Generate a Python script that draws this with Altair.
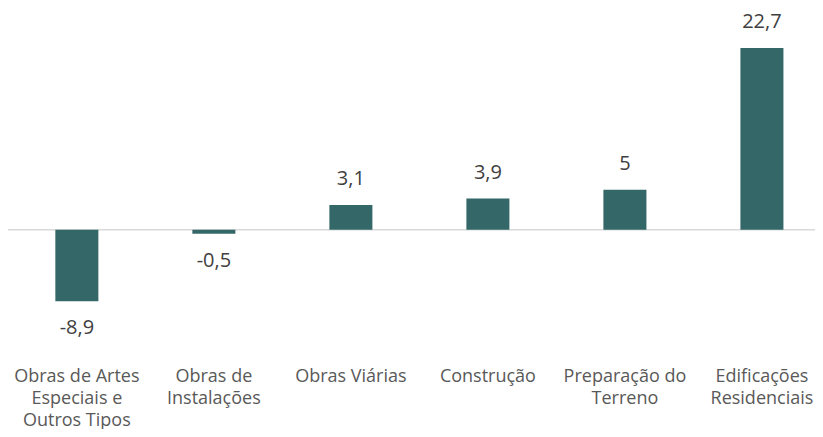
import altair as alt
import pandas as pd

categories = [
    "Obras de Artes\nEspeciais e\nOutros Tipos",
    "Obras de\nInstalações",
    "Obras Viárias",
    "Construção",
    "Preparação do\nTerreno",
    "Edificações\nResidenciais",
]
values = [-8.9, -0.5, 3.1, 3.9, 5.0, 22.7]
value_labels = ["-8,9", "-0,5", "3,1", "3,9", "5", "22,7"]

df = pd.DataFrame({"cat": categories, "val": values, "lbl": value_labels})

FONT = "Open Sans, sans-serif"
BAR = "#346767"
TXT = "#404040"
AXTXT = "#595959"

x = alt.X(
    "cat:N",
    sort=categories,
    title=None,
    scale=alt.Scale(paddingInner=0.686, paddingOuter=0.288, align=0.6),
    axis=alt.Axis(
        domain=False,
        ticks=False,
        labelAngle=0,
        labelFont=FONT,
        labelFontSize=18,
        labelColor=AXTXT,
        labelPadding=9,
        labelLineHeight=22,
        labelBaseline="top",
        labelExpr="split(datum.label, '\\n')",
        labelLimit=200,
    ),
)
y = alt.Y(
    "val:Q",
    scale=alt.Scale(domain=[-16, 27.7], nice=False, zero=False),
    axis=None,
)

base = alt.Chart(df)

bars = base.mark_bar(color=BAR).encode(x=x, y=y, y2=alt.datum(0))

zero = alt.Chart(pd.DataFrame({"z": [0]})).mark_rule(color="#d9d9d9", strokeWidth=1.5).encode(
    y=alt.Y("z:Q", scale=alt.Scale(domain=[-16, 27.7], nice=False, zero=False), axis=None)
)

pos_text = base.transform_filter("datum.val >= 0").mark_text(
    dy=-26, font=FONT, fontSize=20, color=TXT, baseline="middle"
).encode(x=x, y=y, text="lbl:N")

neg_text = base.transform_filter("datum.val < 0").mark_text(
    dy=27, font=FONT, fontSize=20, color=TXT, baseline="middle"
).encode(x=x, y=y, text="lbl:N")

chart = alt.layer(zero, bars, pos_text, neg_text).properties(
    width=807,
    height=350,
    autosize=alt.AutoSizeParams(type="none"),
    padding={"left": 0, "top": 0, "right": 0, "bottom": 71},
    background="white",
).configure_view(stroke=None)

chart.save("out.html", embed_options={"renderer": "svg", "actions": False})
